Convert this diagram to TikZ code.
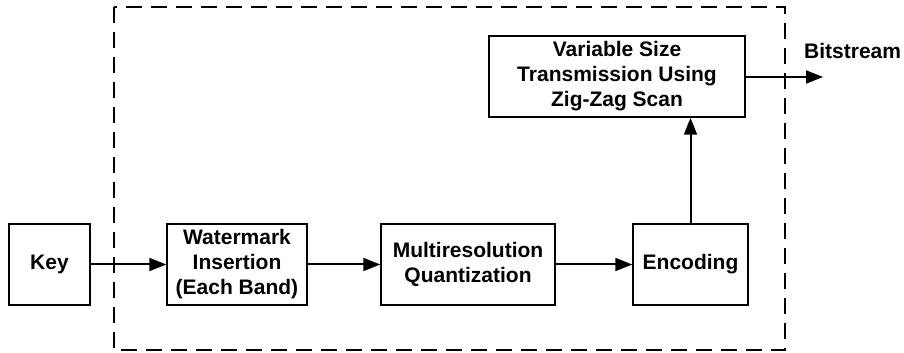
\documentclass[tikz,border=0pt]{standalone}
\usepackage{fontspec}
\setmainfont{Liberation Sans}
\usetikzlibrary{arrows.meta}
\begin{document}
\begin{tikzpicture}[x=1pt,y=1pt,
  blk/.style={draw, line width=1.5pt, minimum height=81pt, inner sep=0pt, align=center,
    font=\fontsize{21}{25}\selectfont\bfseries},
  arr/.style={line width=2pt, -{Triangle[length=17pt,width=13pt]}}]
\useasboundingbox (0,0) rectangle (904,353);
\draw[line width=2pt, dash pattern=on 16pt off 9pt] (114,346) rectangle (785,3);
\node[blk, minimum width=81pt] (key) at (49.5,88.5) {Key};
\node[blk, minimum width=140pt] (wm) at (237,88.5) {Watermark\\Insertion\\(Each Band)};
\node[blk, minimum width=174pt] (mq) at (468,88.5) {Multiresolution\\Quantization};
\node[blk, minimum width=115pt] (enc) at (690.5,88.5) {Encoding};
\node[blk, minimum width=256pt] (vs) at (617,276.5) {Variable Size\\Transmission Using\\Zig-Zag Scan};
\coordinate (out) at (823,276);
\node[font=\fontsize{21}{25}\selectfont\bfseries, anchor=west, inner sep=0pt] (bs) at (804,302) {Bitstream};
\draw[arr] (key.east) -- (wm.west);
\draw[arr] (wm.east) -- (mq.west);
\draw[arr] (mq.east) -- (enc.west);
\draw[arr] (enc.north) -- (enc.north |- vs.south);
\draw[arr] (vs.east |- out) -- (out);
\end{tikzpicture}
\end{document}
